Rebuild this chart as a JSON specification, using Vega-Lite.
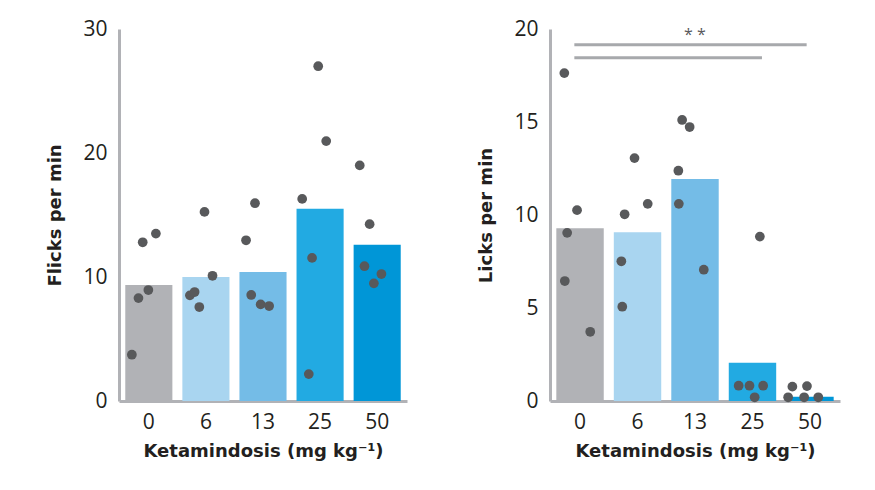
{
  "$schema": "https://vega.github.io/schema/vega-lite/v6.json",
  "background": "white",
  "padding": {"left": 46, "top": 18, "right": 10, "bottom": 10},
  "spacing": 70,
  "datasets": {
    "flickBars": [
      {"dose": "0", "value": 9.35},
      {"dose": "6", "value": 10.0},
      {"dose": "13", "value": 10.4},
      {"dose": "25", "value": 15.5},
      {"dose": "50", "value": 12.6}
    ],
    "flickPts": [
      {"dose": "0", "value": 3.73, "j": 0.14},
      {"dose": "0", "value": 8.3, "j": 0.28},
      {"dose": "0", "value": 8.95, "j": 0.49},
      {"dose": "0", "value": 12.8, "j": 0.37},
      {"dose": "0", "value": 13.5, "j": 0.65},
      {"dose": "6", "value": 15.25, "j": 0.47},
      {"dose": "6", "value": 8.52, "j": 0.16},
      {"dose": "6", "value": 8.79, "j": 0.26},
      {"dose": "6", "value": 7.58, "j": 0.36},
      {"dose": "6", "value": 10.1, "j": 0.64},
      {"dose": "13", "value": 15.95, "j": 0.33},
      {"dose": "13", "value": 12.96, "j": 0.14},
      {"dose": "13", "value": 8.55, "j": 0.25},
      {"dose": "13", "value": 7.79, "j": 0.45},
      {"dose": "13", "value": 7.66, "j": 0.63},
      {"dose": "25", "value": 27.0, "j": 0.46},
      {"dose": "25", "value": 20.96, "j": 0.63},
      {"dose": "25", "value": 16.3, "j": 0.12},
      {"dose": "25", "value": 11.54, "j": 0.33},
      {"dose": "25", "value": 2.17, "j": 0.26},
      {"dose": "50", "value": 19.0, "j": 0.13},
      {"dose": "50", "value": 14.26, "j": 0.34},
      {"dose": "50", "value": 10.87, "j": 0.23},
      {"dose": "50", "value": 10.24, "j": 0.59},
      {"dose": "50", "value": 9.49, "j": 0.43}
    ],
    "lickBars": [
      {"dose": "0", "value": 9.29},
      {"dose": "6", "value": 9.07},
      {"dose": "13", "value": 11.93},
      {"dose": "25", "value": 2.06},
      {"dose": "50", "value": 0.23}
    ],
    "lickPts": [
      {"dose": "0", "value": 17.63, "j": 0.17},
      {"dose": "0", "value": 10.26, "j": 0.44},
      {"dose": "0", "value": 9.04, "j": 0.23},
      {"dose": "0", "value": 6.45, "j": 0.18},
      {"dose": "0", "value": 3.72, "j": 0.72},
      {"dose": "6", "value": 13.06, "j": 0.44},
      {"dose": "6", "value": 10.04, "j": 0.23},
      {"dose": "6", "value": 10.6, "j": 0.72},
      {"dose": "6", "value": 7.51, "j": 0.16},
      {"dose": "6", "value": 5.07, "j": 0.18},
      {"dose": "13", "value": 15.11, "j": 0.23},
      {"dose": "13", "value": 14.73, "j": 0.39},
      {"dose": "13", "value": 12.38, "j": 0.15},
      {"dose": "13", "value": 10.6, "j": 0.16},
      {"dose": "13", "value": 7.06, "j": 0.69},
      {"dose": "25", "value": 8.84, "j": 0.66},
      {"dose": "25", "value": 0.82, "j": 0.21},
      {"dose": "25", "value": 0.82, "j": 0.44},
      {"dose": "25", "value": 0.82, "j": 0.73},
      {"dose": "25", "value": 0.2, "j": 0.55},
      {"dose": "50", "value": 0.77, "j": 0.13},
      {"dose": "50", "value": 0.8, "j": 0.44},
      {"dose": "50", "value": 0.2, "j": 0.04},
      {"dose": "50", "value": 0.2, "j": 0.38},
      {"dose": "50", "value": 0.2, "j": 0.68}
    ]
  },
  "hconcat": [
    {
      "width": 288,
      "height": 372,
      "encoding": {
        "x": {
          "field": "dose", "type": "ordinal",
          "scale": {"type": "band", "domain": ["0", "6", "13", "25", "50"], "paddingInner": 0.175, "paddingOuter": 0.11},
          "axis": {"title": "Ketamindosis (mg kg⁻¹)", "labelAngle": 0}
        },
        "y": {
          "field": "value", "type": "quantitative",
          "scale": {"domain": [0, 30], "nice": false},
          "axis": {"title": "Flicks per min", "values": [0, 10, 20, 30]}
        }
      },
      "layer": [
        {
          "data": {"name": "flickBars"},
          "mark": {"type": "bar"},
          "encoding": {
            "x": {"field": "dose", "type": "ordinal", "bandPosition": 0},
            "x2": {"field": "dose", "bandPosition": 1},
            "y2": {"datum": 0},
            "color": {
              "field": "dose", "type": "ordinal", "legend": null,
              "scale": {"domain": ["0", "6", "13", "25", "50"], "range": ["#b1b2b6", "#a9d5f0", "#74bce7", "#22aae2", "#0096d7"]}
            }
          }
        },
        {
          "data": {"name": "flickPts"},
          "mark": {"type": "point", "filled": true, "opacity": 1, "size": 95, "color": "#58595b"},
          "encoding": {
            "xOffset": {"field": "j", "type": "quantitative", "scale": {"domain": [0, 1]}}
          }
        }
      ]
    },
    {
      "width": 290,
      "height": 372,
      "encoding": {
        "x": {
          "field": "dose", "type": "ordinal",
          "scale": {"type": "band", "domain": ["0", "6", "13", "25", "50"], "paddingInner": 0.175, "paddingOuter": 0.11},
          "axis": {"title": "Ketamindosis (mg kg⁻¹)", "labelAngle": 0}
        },
        "y": {
          "field": "value", "type": "quantitative",
          "scale": {"domain": [0, 20], "nice": false},
          "axis": {"title": "Licks per min", "values": [0, 5, 10, 15, 20]}
        }
      },
      "layer": [
        {
          "data": {"name": "lickBars"},
          "mark": {"type": "bar"},
          "encoding": {
            "x": {"field": "dose", "type": "ordinal", "bandPosition": 0},
            "x2": {"field": "dose", "bandPosition": 1},
            "y2": {"datum": 0},
            "color": {
              "field": "dose", "type": "ordinal", "legend": null,
              "scale": {"domain": ["0", "6", "13", "25", "50"], "range": ["#b1b2b6", "#a9d5f0", "#74bce7", "#22aae2", "#0096d7"]}
            }
          }
        },
        {
          "data": {"name": "lickPts"},
          "mark": {"type": "point", "filled": true, "opacity": 1, "size": 95, "color": "#58595b"},
          "encoding": {
            "xOffset": {"field": "j", "type": "quantitative", "scale": {"domain": [0, 1]}}
          }
        },
        {
          "data": {"values": [{"dose": "0", "to": "50", "value": 19.15}]},
          "mark": {"type": "rule", "color": "#a7a9ac", "strokeWidth": 3},
          "encoding": {
            "x": {"field": "dose", "type": "ordinal", "bandPosition": 0.38},
            "x2": {"field": "to", "bandPosition": 0.43}
          }
        },
        {
          "data": {"values": [{"dose": "0", "to": "25", "value": 18.45}]},
          "mark": {"type": "rule", "color": "#a7a9ac", "strokeWidth": 3},
          "encoding": {
            "x": {"field": "dose", "type": "ordinal", "bandPosition": 0.38},
            "x2": {"field": "to", "bandPosition": 0.7}
          }
        },
        {
          "data": {"values": [{"dose": "13", "value": 19.7, "label": "* *"}]},
          "mark": {"type": "text", "font": "Open Sans", "fontSize": 16, "color": "#58595b", "baseline": "middle", "align": "center"},
          "encoding": {
            "text": {"field": "label"}
          }
        }
      ]
    }
  ],
  "config": {
    "view": {"stroke": null},
    "axis": {
      "grid": false,
      "ticks": false,
      "domainColor": "#b1b2b6",
      "domainWidth": 3,
      "labelFont": "Open Sans",
      "labelFontSize": 21,
      "labelColor": "#231f20",
      "titleFont": "DejaVu Sans",
      "titleFontWeight": "bold",
      "titleFontSize": 18,
      "titleColor": "#231f20"
    },
    "axisX": {"labelPadding": 10, "titlePadding": 10},
    "axisY": {"labelPadding": 12, "titlePadding": 18}
  }
}
